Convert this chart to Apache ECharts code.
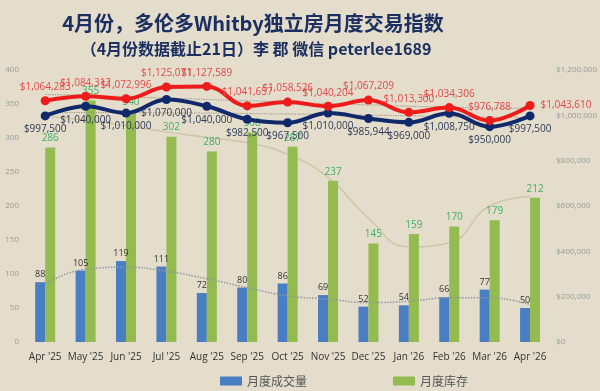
<!DOCTYPE html>
<html>
<head>
<meta charset="utf-8">
<script src="https://cdn.jsdelivr.net/npm/echarts@6/dist/echarts.min.js"></script>
<style>
html,body{margin:0;padding:0;background:#e4ddcc;}
#c{width:600px;height:391px;}
</style>
</head>
<body>
<div id="c"></div>
<script>
var categories = ["Apr '25","May '25","Jun '25","Jul '25","Aug '25","Sep '25","Oct '25","Nov '25","Dec '25","Jan '26","Feb '26","Mar '26","Apr '26"];
var sales = [88,105,119,111,72,80,86,69,52,54,66,77,50];
var inventory = [286,355,340,302,280,308,287,237,145,159,170,179,212];
var medianPrice = [997500,1040000,1010000,1070000,1040000,982500,967500,1010000,985944,969000,1008750,950000,997500];
var avgPrice = [1064283,1084312,1072996,1125071,1127589,1041657,1058526,1040204,1067209,1013300,1034306,976788,1043610];
// trend lines
var salesTrend = [85,107,110,104,93,80,68,63,58,60,65,65,55];
var inventoryTrend = [332,326,318,309,301,293,276,242,182,140,146,200,214];
var avgTrend = [1092000,1088000,1082000,1076000,1070000,1064000,1058000,1052000,1046000,1040000,1036000,1032000,1030000];
var medianTrend = [1012000,1012000,1012000,1011000,1010000,1008000,1006000,1004000,1001000,998000,995000,992000,990000];

function money(v){ return '$' + Number(v).toLocaleString('en-US'); }

var chart = echarts.init(document.getElementById('c'), null, {renderer:'canvas'});
var lblFont = 'Open Sans';
chart.setOption({
  animation:false,
  backgroundColor:'#e4ddcc',
  title:[
    {text:'4月份，多伦多Whitby独立房月度交易指数', left:248, top:8, textAlign:'center',
     textStyle:{fontFamily:'Noto Sans CJK SC', fontWeight:'bold', fontSize:20, color:'#1b2f60'}},
    {text:'（4月份数据截止21日）李 郡 微信 peterlee1689', left:251, top:36, textAlign:'center',
     textStyle:{fontFamily:'Noto Sans CJK SC', fontWeight:'bold', fontSize:16, color:'#1b2f60'}}
  ],
  legend:{
    data:['月度成交量','月度库存'], left:215, top:370, itemWidth:22, itemHeight:9, itemGap:86,
    icon:'rect',
    textStyle:{fontFamily:'Noto Sans CJK SC', fontSize:12, color:'#555'}
  },
  grid:{left:25, right:43, top:70, bottom:49},
  xAxis:{
    type:'category', data:categories,
    axisLine:{show:false}, axisTick:{show:false},
    axisLabel:{interval:0, fontFamily:lblFont, fontSize:10, color:'#333', margin:10}
  },
  yAxis:[
    {type:'value', min:0, max:400, interval:50, splitLine:{show:false},
     axisLabel:{fontFamily:lblFont, fontSize:8, color:'#999', margin:6}},
    {type:'value', min:0, max:1200000, interval:200000, splitLine:{show:false},
     axisLabel:{fontFamily:lblFont, fontSize:8, color:'#999', margin:6, formatter:function(v){return money(v);}}}
  ],
  series:[
    {name:'月度成交量', type:'bar', data:sales, barWidth:10, barGap:'0%', itemStyle:{color:'#4a7ec3'},
     label:{show:true, position:'top', fontFamily:lblFont, fontSize:9, color:'#333', distance:3}, z:2},
    {name:'月度库存', type:'bar', data:inventory, barWidth:10, itemStyle:{color:'#93bb4f'},
     label:{show:true, position:'top', fontFamily:lblFont, fontSize:10, color:'#3fae63', distance:4}, z:2},
    {name:'salesTrend', type:'line', data:salesTrend, smooth:0.5, symbol:'none',
     lineStyle:{color:'#8b97a0', width:1.5, type:'dotted'}, z:3, silent:true},
    {name:'inventoryTrend', type:'line', data:inventoryTrend, smooth:0.5, symbol:'none',
     lineStyle:{color:'#cfc5a8', width:1.5}, z:1, silent:true},
    {name:'avgTrend', type:'line', yAxisIndex:1, data:avgTrend, smooth:0.5, symbol:'none',
     lineStyle:{color:'#a09a88', width:1.2, type:'dotted'}, z:3, silent:true},
    {name:'medianTrend', type:'line', yAxisIndex:1, data:medianTrend, smooth:0.5, symbol:'none',
     lineStyle:{color:'#a09a88', width:1.2, type:'dotted'}, z:3, silent:true},
    {name:'median', type:'line', yAxisIndex:1, smooth:0.4, symbol:'circle', symbolSize:9,
     data:medianPrice.slice(),
     lineStyle:{color:'#10296a', width:4}, itemStyle:{color:'#10296a'},
     label:{show:true, position:'bottom', distance:4, fontFamily:lblFont, fontSize:10, color:'#2c3a55', formatter:function(p){return money(p.value);}}, z:5},
    {name:'avg', type:'line', yAxisIndex:1, smooth:0.4, symbol:'circle', symbolSize:9,
     data:avgPrice.map(function(v,i){ return i===avgPrice.length-1 ? {value:v, label:{position:'right', distance:6}} : v; }),
     lineStyle:{color:'#ee1b1b', width:4}, itemStyle:{color:'#ee1b1b'},
     label:{show:true, position:'top', distance:4, fontFamily:lblFont, fontSize:10, color:'#e24848', formatter:function(p){return money(p.value);}}, z:6}
  ]
});
</script>
</body>
</html>
